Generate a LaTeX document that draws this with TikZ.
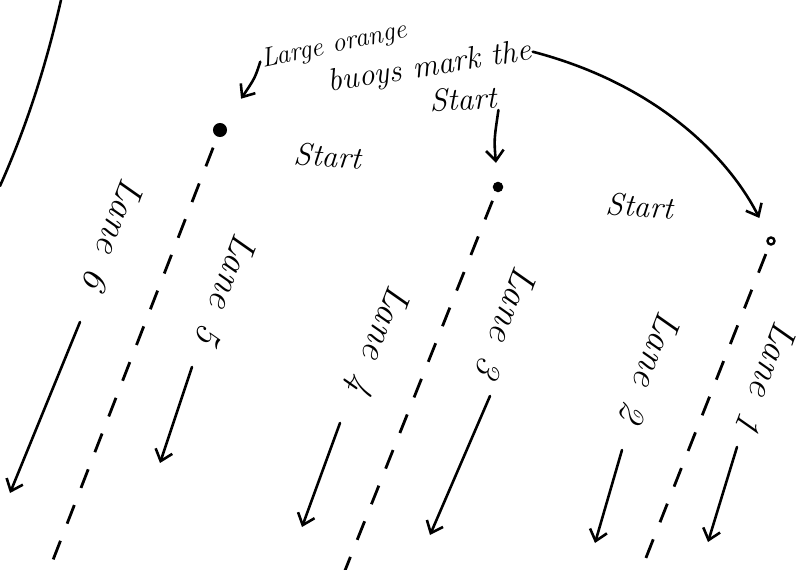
\documentclass[tikz,border=0pt]{standalone}
\usetikzlibrary{arrows.meta, positioning}

\tikzset{
  hand/.style={line width=2.2pt, line cap=round},
  tip/.style={-{Straight Barb[length=9pt, width=15pt, line width=2.2pt]}},
  lanearrow/.style={hand, tip},
  buoyline/.style={line width=2.4pt, dash pattern=on 0.6cm off 0.55cm},
  buoydot/.style={circle, fill=black, inner sep=0pt, minimum size=#1},
  note/.style={font=\fontsize{27}{30}\selectfont\itshape, inner sep=1pt},
  lanelbl/.style={font=\fontsize{32}{36}\selectfont\itshape, rotate=-111, inner sep=0pt}
}

\begin{document}
\begin{tikzpicture}[x=0.03cm, y=-0.03cm]
  \useasboundingbox (0,0) rectangle (805,570);

  % shoreline
  \draw[hand] (61,0) .. controls (45,70) and (25,130) .. (0,186);

  % buoys
  \node[buoydot=12pt] (b1) at (220,130) {};
  \node[buoydot=9pt] (b2) at (498,187) {};
  \node[circle, draw, line width=2pt, inner sep=0pt, minimum size=6pt] (b3) at (771,241) {};

  % note at the top
  \node[note, font=\fontsize{23}{26}\selectfont\itshape, rotate=12] (note1) at (334,46) {Large orange};
  \node[note, rotate=9] (note2) at (430,68) {buoys mark the};
  \node[note, rotate=3] (note3) at (463,99) {Start};

  \draw[hand, tip, shorten >=26pt] (note1.west) .. controls (255,78) .. (b1);
  \draw[hand, tip, shorten >=16pt] (note3.south east) .. controls (494,140) .. (b2);
  \draw[hand, tip, shorten >=18pt] (note2.east) .. controls (660,85) and (730,160) .. (b3);

  \node[note, rotate=-4] (start1) at (328,156) {Start};
  \node[note, rotate=-4] (start2) at (640,206) {Start};

  % buoy lines
  \coordinate (d1) at (46,578);
  \coordinate (d2) at (342,578);
  \coordinate (d3) at (638,578);
  \draw[buoyline, shorten <=10pt] (b1) -- (d1);
  \draw[buoyline, shorten <=8pt] (b2) -- (d2);
  \draw[buoyline, shorten <=8pt] (b3) -- (d3);

  % lanes
  \node[lanelbl] (lane6) at (114,235) {Lane\enspace 6};
  \node[lanelbl] (lane5) at (227,290) {Lane\enspace 5};
  \node[lanelbl] (lane4) at (377,340) {Lane\enspace 4};
  \node[lanelbl] (lane3) at (507,323) {Lane\enspace 3};
  \node[lanelbl] (lane2) at (651,368) {Lane\enspace 2};
  \node[lanelbl] (lane1) at (767,378) {Lane\enspace 1};

  \coordinate (a6s) at (80,322);  \coordinate (a6e) at (10,493);
  \coordinate (a5s) at (192,367); \coordinate (a5e) at (160,463);
  \coordinate (a4s) at (340,423); \coordinate (a4e) at (302,527);
  \coordinate (a3s) at (490,396); \coordinate (a3e) at (430,535);
  \coordinate (a2s) at (622,450); \coordinate (a2e) at (595,543);
  \coordinate (a1s) at (737,447); \coordinate (a1e) at (708,542);
  \foreach \n in {1,...,6}
    \draw[lanearrow] (a\n s) -- (a\n e);
\end{tikzpicture}
\end{document}
